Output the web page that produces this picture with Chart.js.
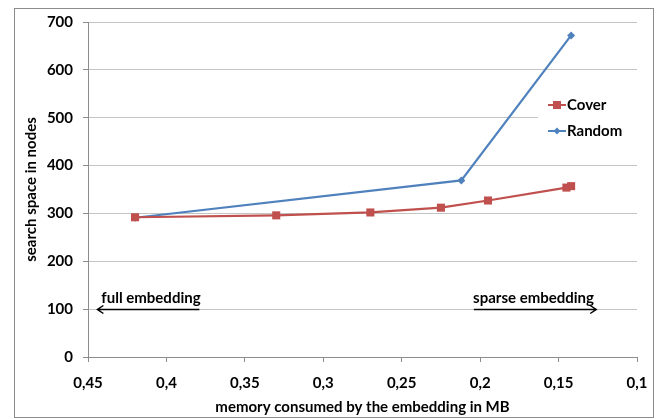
<!DOCTYPE html>
<html lang="en">

<head>
  <meta charset="UTF-8">
  <title>Search space vs memory</title>
  <style>
    html,
    body {
      margin: 0;
      padding: 0;
      background: #fff;
    }

    #myChart {
      display: block;
      width: 660px;
      height: 419px;
    }
  </style>
</head>

<body>
  <canvas id="myChart" width="660" height="419"></canvas>
  <script src="https://cdn.jsdelivr.net/npm/chart.js@4/dist/chart.umd.min.js"></script>
  <script>
    // memory (MB) on x, search space on y
    const coverMemory = [0.42, 0.33, 0.27, 0.225, 0.195, 0.145, 0.142]
    const coverSearch = [292, 296, 302, 312, 327, 354, 357]
    const randomMemory = [0.42, 0.212, 0.142]
    const randomSearch = [291, 369, 672]

    const xTicks = [0.45, 0.4, 0.35, 0.3, 0.25, 0.2, 0.15, 0.1]
    const yTicks = [0, 100, 200, 300, 400, 500, 600, 700]

    // arrows under the plot: [label, text start x, arrow from x, arrow to x]
    const arrowNotes = [
      ['full embedding', 0.4415, 0.379, 0.444],
      ['sparse embedding', 0.2045, 0.204, 0.126]
    ]
    const arrowLevel = 100
    const noteLevel = 113

    const red = '#C0504D'
    const blue = '#4F81BD'
    const fontFamily = 'Lato, "Liberation Sans", sans-serif'
    const textSize = 15

    const toPoints = (xs, ys) => xs.map((x, i) => ({ x: x, y: ys[i] }))
    const fmt = v => String(+v.toFixed(2)).replace('.', ',')

    Chart.defaults.font.family = fontFamily
    Chart.defaults.color = '#000'

    const frame = {
      id: 'frame',
      beforeDraw(chart) {
        const ctx = chart.ctx
        ctx.save()
        ctx.fillStyle = '#fff'
        ctx.fillRect(0, 0, chart.width, chart.height)
        ctx.strokeStyle = '#8c8c8c'
        ctx.lineWidth = 1
        ctx.strokeRect(14.5, 8.5, 639, 409)
        ctx.restore()
      }
    }

    const notes = {
      id: 'notes',
      beforeDatasetsDraw(chart) {
        // white patch behind the legend
        const ctx = chart.ctx
        ctx.save()
        ctx.fillStyle = '#fff'
        ctx.fillRect(538, 92, chart.chartArea.right - 538, 52)
        ctx.restore()
      },
      afterDraw(chart) {
        const ctx = chart.ctx
        const x = chart.scales.x
        const y = chart.scales.y
        ctx.save()
        ctx.font = 'bold ' + textSize + 'px ' + fontFamily
        ctx.fillStyle = '#000'
        ctx.strokeStyle = '#000'
        ctx.lineWidth = 1.5
        ctx.textBaseline = 'alphabetic'
        const ay = Math.round(y.getPixelForValue(arrowLevel)) + 0.5
        arrowNotes.forEach(([label, tx, from, to]) => {
          ctx.fillText(label, x.getPixelForValue(tx), y.getPixelForValue(noteLevel))
          const x0 = x.getPixelForValue(from)
          const x1 = x.getPixelForValue(to)
          const dir = x1 > x0 ? 1 : -1
          ctx.beginPath()
          ctx.moveTo(x0, ay)
          ctx.lineTo(x1, ay)
          ctx.moveTo(x1 - dir * 6, ay - 4)
          ctx.lineTo(x1, ay)
          ctx.lineTo(x1 - dir * 6, ay + 4)
          ctx.stroke()
        })

        // legend
        ctx.textBaseline = 'middle'
        chart.data.datasets.forEach((ds, i) => {
          const ly = 105 + i * 26
          ctx.strokeStyle = ds.borderColor
          ctx.lineWidth = 2
          ctx.beginPath()
          ctx.moveTo(548, ly)
          ctx.lineTo(566, ly)
          ctx.stroke()
          ctx.fillStyle = ds.backgroundColor
          if (ds.pointStyle === 'rect') {
            ctx.fillRect(553, ly - 4, 8, 8)
          } else {
            ctx.beginPath()
            ctx.moveTo(557, ly - 3.5)
            ctx.lineTo(560.5, ly)
            ctx.lineTo(557, ly + 3.5)
            ctx.lineTo(553.5, ly)
            ctx.closePath()
            ctx.fill()
          }
          ctx.fillStyle = '#000'
          ctx.fillText(ds.label, 567, ly)
        })
        ctx.restore()
      }
    }

    function drawChart() {
      const context = document.querySelector('#myChart').getContext('2d')
      new Chart(context, {
        type: 'scatter',
        data: {
          datasets: [
            {
              label: 'Cover',
              data: toPoints(coverMemory, coverSearch),
              showLine: true,
              borderColor: red,
              backgroundColor: red,
              borderWidth: 2.2,
              pointStyle: 'rect',
              pointRadius: 5.7,
              pointBorderWidth: 0
            },
            {
              label: 'Random',
              data: toPoints(randomMemory, randomSearch),
              showLine: true,
              borderColor: blue,
              backgroundColor: blue,
              borderWidth: 2.2,
              pointStyle: 'rectRot',
              pointRadius: 4,
              pointBorderWidth: 0
            }
          ]
        },
        options: {
          responsive: false,
          animation: false,
          layout: { padding: { left: 0, top: 22, right: 23, bottom: 0 } },
          plugins: {
            legend: { display: false },
            tooltip: { enabled: false }
          },
          scales: {
            x: {
              type: 'linear',
              reverse: true,
              min: xTicks[xTicks.length - 1],
              max: xTicks[0],
              afterBuildTicks: scale => { scale.ticks = xTicks.map(v => ({ value: v })) },
              afterFit: scale => { scale.height = 62 },
              ticks: {
                padding: 12,
                maxRotation: 0,
                font: { size: textSize, weight: 'bold' },
                callback: v => fmt(v)
              },
              grid: {
                drawOnChartArea: false,
                drawTicks: true,
                tickLength: 5,
                color: '#8c8c8c'
              },
              border: { color: '#8c8c8c' },
              title: {
                display: true,
                text: 'memory consumed by the embedding in MB',
                font: { size: textSize, weight: 'bold' },
                padding: { top: 0, bottom: 3 }
              }
            },
            y: {
              min: yTicks[0],
              max: yTicks[yTicks.length - 1],
              afterBuildTicks: scale => { scale.ticks = yTicks.map(v => ({ value: v })) },
              afterFit: scale => { scale.width = 88 },
              ticks: {
                padding: 10,
                font: { size: textSize, weight: 'bold' }
              },
              grid: {
                color: '#c4c4c4',
                tickLength: 5,
                tickColor: '#8c8c8c'
              },
              border: { color: '#8c8c8c' },
              title: {
                display: true,
                text: 'search space in nodes',
                font: { size: textSize, weight: 'bold' },
                padding: { top: 22, bottom: 0 }
              }
            }
          }
        },
        plugins: [frame, notes]
      })
    }

    window.onload = drawChart
  </script>
</body>

</html>
